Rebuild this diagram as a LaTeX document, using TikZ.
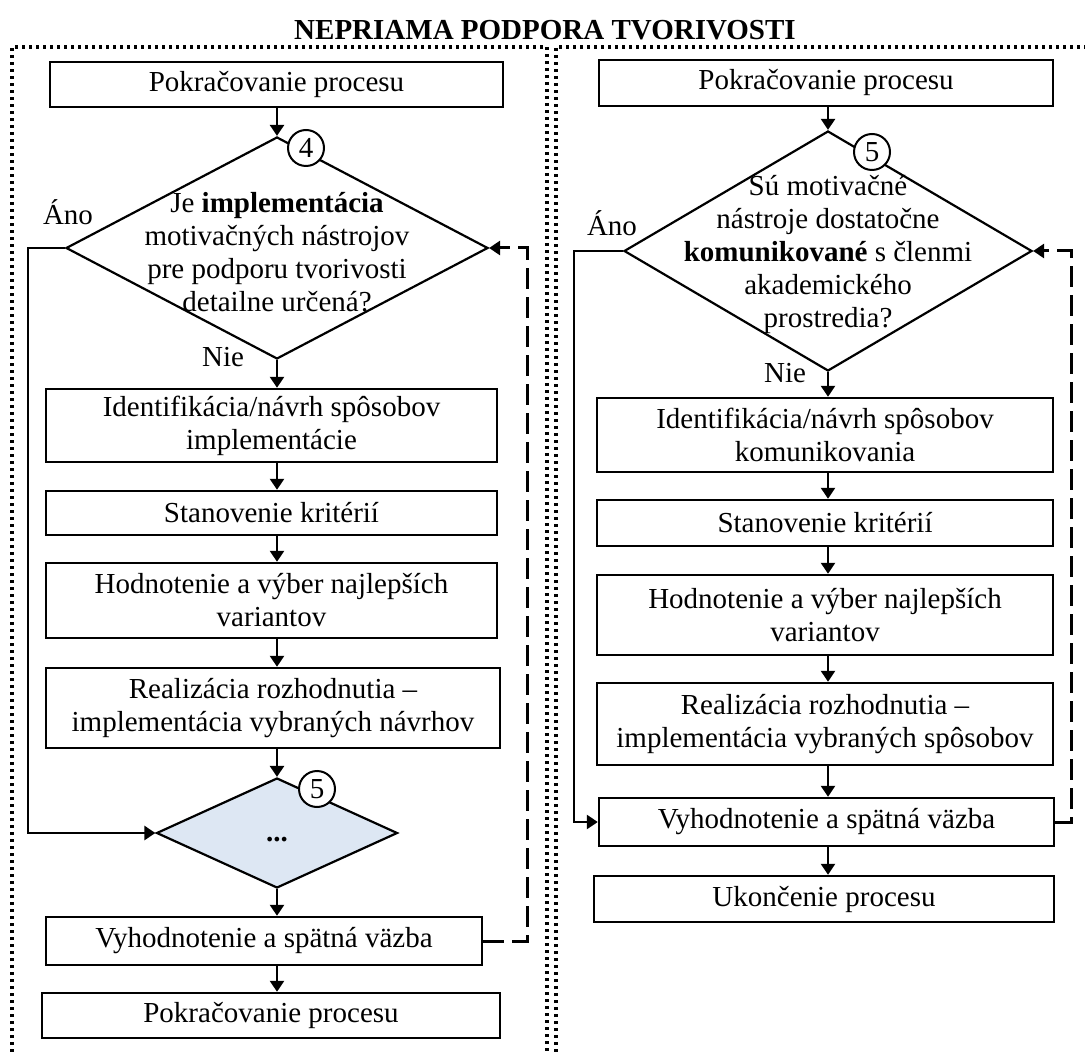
\documentclass[tikz,border=0pt]{standalone}
\usepackage{fontspec}
\setmainfont{Liberation Serif}
\usetikzlibrary{shapes.geometric,arrows.meta}
\definecolor{diafill}{RGB}{221,231,243}
\begin{document}
\begin{tikzpicture}[x=0.5pt,y=-0.5pt,
  font=\fontsize{14.5pt}{16.5pt}\selectfont,
  box/.style={draw, line width=1.2pt, align=center, inner sep=0pt},
  dia/.style={draw, diamond, line width=1.1pt, inner sep=0pt},
  num/.style={draw, circle, fill=white, line width=1pt, inner sep=0pt, minimum size=18pt},
  tip/.style={-{Triangle[length=5.5pt,width=7pt]}},
  arr/.style={line width=1.2pt, tip},
  back/.style={line width=1.5pt, dash pattern=on 10.5pt off 4pt},
  frame/.style={line width=1.6pt, dash pattern=on 1.5pt off 2pt},
  lbl/.style={inner sep=0pt, align=center}
]
\useasboundingbox (0,0) rectangle (1085,1052);

% heading and the two dotted panels
\node[lbl, font=\fontsize{14.5pt}{16.5pt}\selectfont\bfseries] (title) at (545,30) {NEPRIAMA PODPORA TVORIVOSTI};
\draw[frame] (12,1052) -- (12,47) -- (547,47) -- (547,1052);
\draw[frame] (556,1052) -- (556,47) -- (1085,47);

% ---------- left panel ----------
\node[box, minimum width=226.5pt, minimum height=22.5pt] (l1) at (276.5,84.5) {Pokračovanie procesu};
\node[dia, minimum width=211pt, minimum height=111pt] (ld1) at (277,248) {};
\node[lbl] (ld1t) at (277,252) {Je \textbf{implementácia}\\ motivačných nástrojov\\ pre podporu tvorivosti\\ detailne určená?};
\node[num] (ln4) at (306,148) {4};
\node[box, minimum width=225.5pt, minimum height=36.5pt] (l2) at (271.5,425.5) {Identifikácia/návrh spôsobov\\ implementácie};
\node[box, minimum width=225.5pt, minimum height=22pt] (l3) at (271.5,513) {Stanovenie kritérií};
\node[box, minimum width=225.5pt, minimum height=37.5pt] (l4) at (271.5,600.5) {Hodnotenie a výber najlepších\\ variantov};
\node[box, minimum width=227pt, minimum height=40pt] (l5) at (273,708) {Realizácia rozhodnutia –\\ implementácia vybraných návrhov};
\node[dia, fill=diafill, minimum width=120.5pt, minimum height=55pt] (ld2) at (277,833) {};
\node[lbl] (ld2t) at (277,840) {\textbf{...}};
\node[num] (ln5) at (317,789) {5};
\node[box, minimum width=218pt, minimum height=24pt] (l6) at (264,941) {Vyhodnotenie a spätná väzba};
\node[box, minimum width=229pt, minimum height=22.5pt] (l7) at (271,1015.5) {Pokračovanie procesu};
\node[lbl] (lano) at (68,212) {Áno};
\node[lbl] (lnie) at (223,357) {Nie};
\coordinate (lyes) at (28,833);
\coordinate (lfb) at (527,941);

\draw[arr] (l1.south -| ld1.north) -- (ld1.north);
\draw[arr] (ld1.south) -- (ld1.south |- l2.north);
\draw[arr] (l2.south -| ld1) -- (l3.north -| ld1);
\draw[arr] (l3.south -| ld1) -- (l4.north -| ld1);
\draw[arr] (l4.south -| ld1) -- (l5.north -| ld1);
\draw[arr] (l5.south -| ld2) -- (ld2.north);
\draw[arr] (ld2.south) -- (ld2.south |- l6.north);
\draw[arr] (l6.south -| ld2) -- (l7.north -| ld2);
\draw[arr] (ld1.west) -| (lyes) -- (ld2.west);
\draw[back, tip] (l6.east) -- (lfb) |- (ld1.east);

% ---------- right panel ----------
\node[box, minimum width=227pt, minimum height=23pt] (r1) at (826,83) {Pokračovanie procesu};
\node[dia, minimum width=204pt, minimum height=120pt] (rd1) at (828,251) {};
\node[lbl] (rd1t) at (828,255) {Sú motivačné\\ nástroje dostatočne\\ \textbf{komunikované} s členmi\\ akademického\\ prostredia?};
\node[num] (rn5) at (872,152) {5};
\node[box, minimum width=228pt, minimum height=37pt] (r2) at (825,435) {Identifikácia/návrh spôsobov\\ komunikovania};
\node[box, minimum width=228pt, minimum height=23pt] (r3) at (825,523) {Stanovenie kritérií};
\node[box, minimum width=228pt, minimum height=40pt] (r4) at (825,615) {Hodnotenie a výber najlepších\\ variantov};
\node[box, minimum width=228pt, minimum height=41pt] (r5) at (825,724) {Realizácia rozhodnutia –\\ implementácia vybraných spôsobov};
\node[box, minimum width=227.5pt, minimum height=24pt] (r6) at (826.5,822) {Vyhodnotenie a spätná väzba};
\node[box, minimum width=230pt, minimum height=23pt] (r7) at (824,899) {Ukončenie procesu};
\node[lbl] (rano) at (612,223) {Áno};
\node[lbl] (rnie) at (785,373) {Nie};
\coordinate (ryes) at (574,822);
\coordinate (rfb) at (1071,822);

\draw[arr] (r1.south -| rd1.north) -- (rd1.north);
\draw[arr] (rd1.south) -- (rd1.south |- r2.north);
\draw[arr] (r2.south -| rd1) -- (r3.north -| rd1);
\draw[arr] (r3.south -| rd1) -- (r4.north -| rd1);
\draw[arr] (r4.south -| rd1) -- (r5.north -| rd1);
\draw[arr] (r5.south -| rd1) -- (r6.north -| rd1);
\draw[arr] (r6.south -| rd1) -- (r7.north -| rd1);
\draw[arr] (rd1.west) -| (ryes) -- (r6.west);
\draw[back, tip] (r6.east) -- (rfb) |- (rd1.east);
\end{tikzpicture}
\end{document}
